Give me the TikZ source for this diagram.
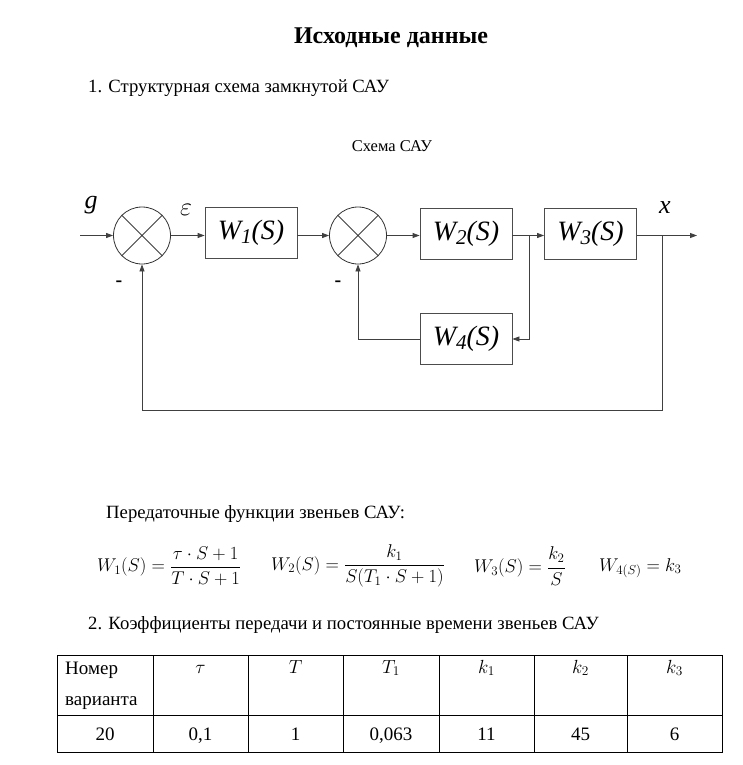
\RequirePackage{fix-cm}
\documentclass[tikz,border=0pt]{standalone}
\usepackage{fontspec}
\setmainfont{LiberationSerif}[Extension=.ttf, UprightFont=*-Regular, BoldFont=*-Bold, ItalicFont=*-Italic, BoldItalicFont=*-BoldItalic]
\usetikzlibrary{arrows.meta,calc}
\newcommand{\blksub}[1]{\raisebox{-0.3ex}{\fontsize{21}{21}\selectfont #1}}
\begin{document}
\begin{tikzpicture}[x=1pt,y=-1pt,
  ln/.style={line width=0.8pt, draw=black!75},
  arr/.style={ln, -{Triangle[length=7pt,width=5pt]}},
  blk/.style={draw=black!70, line width=0.8pt, minimum width=92pt, minimum height=51pt, inner sep=0pt, font=\fontsize{28}{30}\selectfont\itshape},
  sumc/.style={draw=black!80, circle, minimum size=57pt, inner sep=0pt, line width=0.8pt},
  body/.style={font=\fontsize{18.7}{22}\selectfont, inner sep=0pt},
  lbl/.style={font=\fontsize{26}{28}\selectfont\itshape, inner sep=0pt},
  eq/.style={font=\fontsize{18.5}{21}\selectfont, inner sep=0pt, anchor=west},
  cell/.style={font=\fontsize{19}{22}\selectfont, inner sep=0pt, anchor=base},
  mcell/.style={font=\fontsize{19}{22}\selectfont, inner sep=0pt, anchor=base},
  grid/.style={line width=0.7pt, draw=black}]
\useasboundingbox (0,0) rectangle (743,765);
\fill[white] (0,0) rectangle (743,765);

% headings
\node[body, font=\fontsize{24}{27}\selectfont\bfseries] (title) at (391,38) {Исходные данные};
\node[body, anchor=west] (h1) at (88,88) {1. Структурная схема замкнутой САУ};
\node[body, font=\fontsize{16.5}{19}\selectfont] (cap) at (392,146) {Схема САУ};

% block diagram
\node[sumc] (s1) at (142,235.5) {};
\draw[ln] (s1.45) -- (s1.225) (s1.135) -- (s1.315);
\node[sumc] (s2) at (358,235.5) {};
\draw[ln] (s2.45) -- (s2.225) (s2.135) -- (s2.315);
\node[blk] (w1) at (251,233) {W\blksub{1}(S)};
\node[blk] (w2) at (466,233.5) {W\blksub{2}(S)};
\node[blk] (w3) at (590.5,234) {W\blksub{3}(S)};
\node[blk] (w4) at (466,339) {W\blksub{4}(S)};

\coordinate (in) at (80,235.5);
\coordinate (b1) at (529,235.5);
\coordinate (b2) at (662,235.5);
\coordinate (out) at (697,235.5);
\coordinate (c1) at (662,410);
\coordinate (c2) at (142,410);

\draw[arr] (in) -- (s1.west);
\draw[arr] (s1.east) -- (s1.east -| w1.west);
\draw[arr] (w1.east |- s1.east) -- (s2.west);
\draw[arr] (s2.east) -- (s2.east -| w2.west);
\draw[arr] (w2.east |- s2.east) -- (w3.west |- s2.east);
\draw[arr] (b1) |- (w4.east);
\draw[arr] (w4.west) -| (s2.south);
\draw[arr] (w3.east |- s2.east) -- (out);
\draw[arr] (b2) -- (c1) -- (c2) -- (s1.south);

\node[lbl] (g) at (91,205) {g};
\node[lbl] (eps) at (186,210) {$\varepsilon$};
\node[lbl] (x) at (665,208) {x};
\node[body, font=\fontsize{20}{20}\selectfont\bfseries] (m1) at (119,284) {-};
\node[body, font=\fontsize{20}{20}\selectfont\bfseries] (m2) at (338,284) {-};

% transfer functions
\node[body, anchor=west] (h2) at (106,514) {Передаточные функции звеньев САУ:};
\node[eq] (e1) at (97,566) {$\displaystyle W_1(S)=\frac{\tau\cdot S+1}{T\cdot S+1}$};
\node[eq] (e2) at (271,566) {$\displaystyle W_2(S)=\frac{k_1}{S(T_1\cdot S+1)}$};
\node[eq] (e3) at (474,566) {$\displaystyle W_3(S)=\frac{k_2}{S}$};
\node[eq] (e4) at (599,568) {$W_{4(S)}=k_3$};

% table
\node[body, anchor=west] (h3) at (88,625) {2. Коэффициенты передачи и постоянные времени звеньев САУ};
\draw[grid] (57,655) rectangle (722,752);
\draw[grid] (57,715) -- (722,715);
\foreach \xx in {153,248,343,439,534,627} \draw[grid] (\xx,655) -- (\xx,752);
\node[cell, anchor=base west] (t1) at (65,674) {Номер};
\node[cell, anchor=base west] (t2) at (65,705) {варианта};
\node[mcell] (t3) at (200.5,673) {$\tau$};
\node[mcell] (t4) at (295.5,673) {$T$};
\node[mcell] (t5) at (391,673) {$T_1$};
\node[mcell] (t6) at (486.5,673) {$k_1$};
\node[mcell] (t7) at (580.5,673) {$k_2$};
\node[mcell] (t8) at (674.5,673) {$k_3$};
\node[cell] (v1) at (105,740) {20};
\node[cell] (v2) at (200.5,740) {0,1};
\node[cell] (v3) at (295.5,740) {1};
\node[cell] (v4) at (391,740) {0,063};
\node[cell] (v5) at (486.5,740) {11};
\node[cell] (v6) at (580.5,740) {45};
\node[cell] (v7) at (674.5,740) {6};
\end{tikzpicture}
\end{document}
